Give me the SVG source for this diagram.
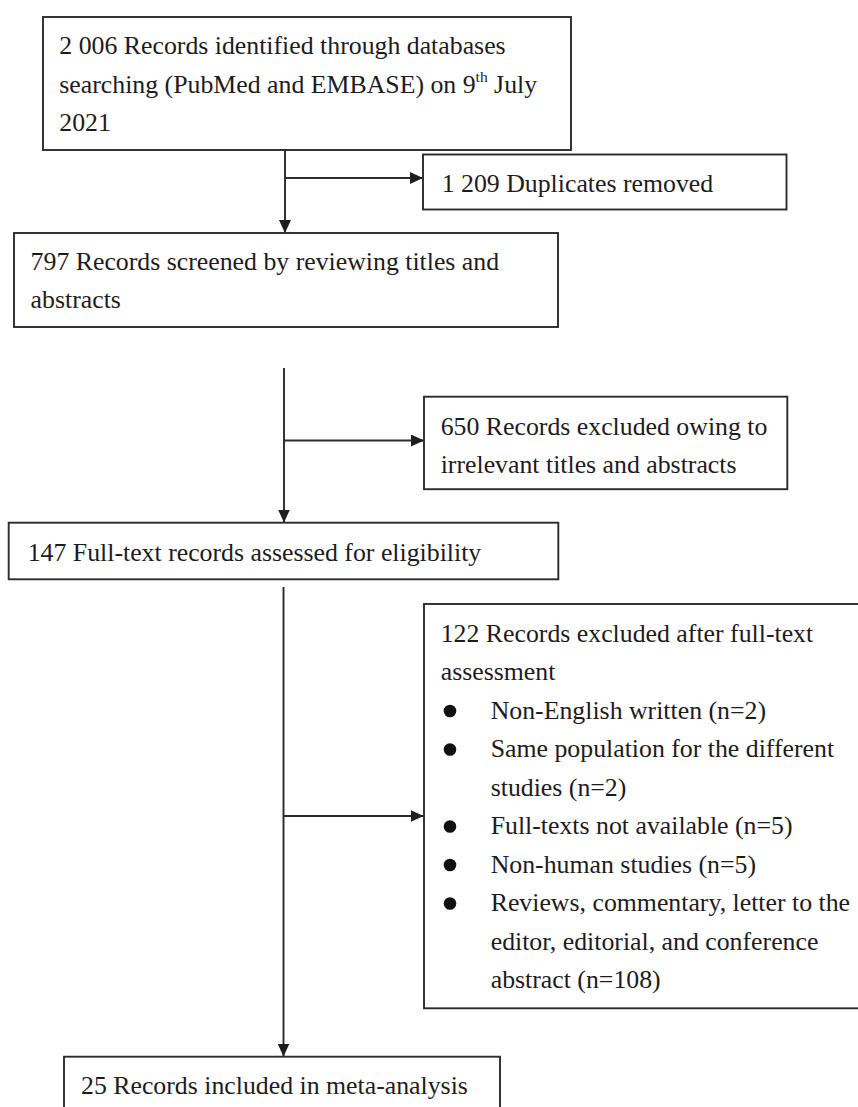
<svg xmlns="http://www.w3.org/2000/svg" width="858" height="1107" viewBox="0 0 858 1107">
<style>
.box{fill:#fff;stroke:#2b2b2b;stroke-width:1.9}
.t{font-family:'Liberation Serif','Times New Roman',Times,serif;font-size:25.8px;fill:#1e1b1c}
.c{fill:none;stroke:#2b2b2b;stroke-width:1.9}
.b{fill:#111}
</style>
<defs>
<marker id="ah" markerUnits="userSpaceOnUse" markerWidth="13" markerHeight="12" refX="13" refY="6" orient="auto">
<path d="M0,0 L13,6 L0,12 z" fill="#1e1e1e"/>
</marker>
</defs>
<rect width="858" height="1107" fill="#fff"/>
<g id="connectors">
<path class="c" d="M285,150 V233" marker-end="url(#ah)"/>
<path class="c" d="M285,178 H423" marker-end="url(#ah)"/>
<path class="c" d="M284,368 V522.5" marker-end="url(#ah)"/>
<path class="c" d="M284,440.5 H424" marker-end="url(#ah)"/>
<path class="c" d="M283.5,587 V1056.5" marker-end="url(#ah)"/>
<path class="c" d="M283.5,816 H423.5" marker-end="url(#ah)"/>
</g>
<g id="n1">
<rect class="box" x="43" y="17" width="528" height="133"/>
<text class="t" x="59.3" y="54.3">2 006 Records identified through databases</text>
<text class="t" x="59.3" y="92.8">searching (PubMed and EMBASE) on 9<tspan font-size="15.5" dy="-11">th</tspan><tspan dy="11"> July</tspan></text>
<text class="t" x="59.3" y="131.3">2021</text>
</g>
<g id="n2">
<rect class="box" x="423" y="154.5" width="363.5" height="55"/>
<text class="t" x="441.7" y="191.7">1 209 Duplicates removed</text>
</g>
<g id="n3">
<rect class="box" x="14" y="233" width="544" height="94"/>
<text class="t" x="30.6" y="269.5">797 Records screened by reviewing titles and</text>
<text class="t" x="30.6" y="308">abstracts</text>
</g>
<g id="n4">
<rect class="box" x="424" y="396.7" width="363.3" height="92.5"/>
<text class="t" x="440.7" y="434.5">650 Records excluded owing to</text>
<text class="t" x="440.7" y="473">irrelevant titles and abstracts</text>
</g>
<g id="n5">
<rect class="box" x="8.7" y="522.7" width="549.6" height="56.6"/>
<text class="t" x="27.7" y="560.7">147 Full-text records assessed for eligibility</text>
</g>
<g id="n6">
<rect class="box" x="424" y="604" width="450" height="404.3"/>
<text class="t" x="440.7" y="641.7">122 Records excluded after full-text</text>
<text class="t" x="440.7" y="680.2">assessment</text>
<circle class="b" cx="450" cy="711" r="6.3"/>
<text class="t" x="490.7" y="718.7">Non-English written (n=2)</text>
<circle class="b" cx="450" cy="749.5" r="6.3"/>
<text class="t" x="490.7" y="757.2">Same population for the different</text>
<text class="t" x="490.7" y="795.7">studies (n=2)</text>
<circle class="b" cx="450" cy="826.5" r="6.3"/>
<text class="t" x="490.7" y="834.2">Full-texts not available (n=5)</text>
<circle class="b" cx="450" cy="865" r="6.3"/>
<text class="t" x="490.7" y="872.7">Non-human studies (n=5)</text>
<circle class="b" cx="450" cy="903.5" r="6.3"/>
<text class="t" x="490.7" y="911.2">Reviews, commentary, letter to the</text>
<text class="t" x="490.7" y="949.7">editor, editorial, and conference</text>
<text class="t" x="490.7" y="988.2">abstract (n=108)</text>
</g>
<g id="n7">
<rect class="box" x="64" y="1056.7" width="436" height="70"/>
<text class="t" x="81" y="1094">25 Records included in meta-analysis</text>
</g>
</svg>
